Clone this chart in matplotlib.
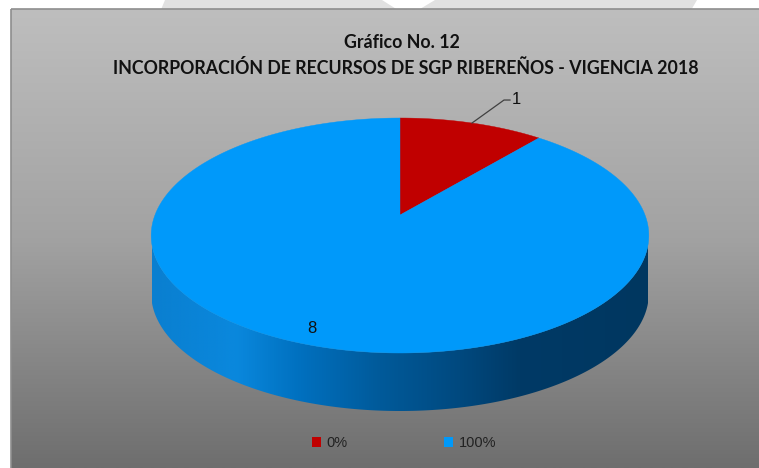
import numpy as np
import matplotlib
matplotlib.use("Agg")
import matplotlib.pyplot as plt
from matplotlib.patches import Polygon, Rectangle, Patch
from matplotlib.colors import LinearSegmentedColormap

# ---------------- data ----------------
title_lines = ["Gráfico No. 12",
               "INCORPORACIÓN DE RECURSOS DE SGP RIBEREÑOS - VIGENCIA 2018"]
values = [1, 8]
legend_labels = ["0%", "100%"]
top_colors = ["#C00000", "#0099FA"]
side_stops = [
    ["#B00000", "#B20000", "#900000", "#700000", "#600000", "#500000", "#4C0000"],
    ["#0A7FD0", "#0A88DD", "#0070BF", "#005A9A", "#00497F", "#003A66", "#003760"],
]

W, H = 759, 468
fig = plt.figure(figsize=(W / 100, H / 100), dpi=100)
ax = fig.add_axes([0, 0, 1, 1])
ax.set_xlim(0, W)
ax.set_ylim(H, 0)
ax.axis("off")

# ---------------- page watermark / chart area ----------------
ax.add_patch(Polygon([(165, 0), (160, 12), (401, 12), (382, 0)], closed=True,
                     facecolor="#E1E1E1", edgecolor="none", zorder=0))
ax.add_patch(Polygon([(435, 0), (415, 12), (690, 12), (697, 0)], closed=True,
                     facecolor="#E1E1E1", edgecolor="none", zorder=0))

x0, y0 = 11, 9
grad = np.linspace(0, 1, 256).reshape(-1, 1)
bg_cmap = LinearSegmentedColormap.from_list("bg", ["#BEBEBE", "#A2A2A2", "#6E6E6E"])
ax.imshow(grad, cmap=bg_cmap, extent=[x0, W + 2, H, y0], aspect="auto",
          interpolation="bilinear", zorder=1)
ax.add_patch(Rectangle((x0, y0), W + 5 - x0, H + 5 - y0, facecolor="none",
                       edgecolor="#8E8E8E", lw=1.2, zorder=2))

# ---------------- 3D pie projection ----------------
cx, cy = 400.0, 215.0
kx = 245.0
a_, c_ = 76.4, -0.1745
depth = 58.0


def project(theta_deg, r=1.0, drop=0.0):
    t = np.deg2rad(theta_deg)
    u = r * np.cos(t)
    v = -r * np.sin(t)
    d = 1 + c_ * v
    return cx + kx * u / d, (a_ * v + cy) / d + drop


total = float(sum(values))
fracs = np.array(values) / total
start = 90.0
ends = start - np.cumsum(fracs) * 360
begins = np.concatenate([[start], ends[:-1]])

# side faces (front, visible part)
vis_v = -c_
stops_x = [152, 235, 300, 380, 460, 520, 648]
pos = [(s - stops_x[0]) / (stops_x[-1] - stops_x[0]) for s in stops_x]
for i, (b, e) in enumerate(zip(begins, ends)):
    th = np.linspace(b, e, 800)
    vv = -np.sin(np.deg2rad(th))
    m = vv >= vis_v
    if not m.any():
        continue
    ths = th[m]
    xt, yt = project(ths)
    xb, yb = project(ths[::-1], drop=depth)
    poly = Polygon(np.column_stack([np.r_[xt, xb], np.r_[yt, yb]]), closed=True,
                   facecolor="none", edgecolor="none", zorder=3)
    ax.add_patch(poly)
    cm = LinearSegmentedColormap.from_list("side%d" % i,
                                           list(zip(pos, side_stops[i])))
    gimg = np.linspace(0, 1, 512).reshape(1, -1)
    im = ax.imshow(gimg, cmap=cm, extent=[stops_x[0], stops_x[-1], 420, 200],
                   aspect="auto", interpolation="bilinear", zorder=3)
    im.set_clip_path(poly)

# top faces
for i, (b, e) in enumerate(zip(begins, ends)):
    th = np.linspace(b, e, 400)
    xs, ys = project(th)
    pts = np.column_stack([np.r_[cx, xs], np.r_[cy, ys]])
    ax.add_patch(Polygon(pts, closed=True, facecolor=top_colors[i],
                         edgecolor=top_colors[i], lw=0.3, zorder=4))

# data labels
lab_font = ["Liberation Sans", "DejaVu Sans"]
for i, (b, e) in enumerate(zip(begins, ends)):
    mid = (b + e) / 2
    if fracs[i] < 0.2:
        ax0, ay0 = project(mid)
        ex, ey = ax0 + 32, ay0 - 23
        ax.plot([ax0, ex, ex + 6], [ay0, ey, ey], color="#404040", lw=0.9,
                zorder=5)
        ax.text(ex + 8, ey - 1, str(values[i]), fontsize=12, family=lab_font,
                color="#111111", ha="left", va="center", zorder=6)
    else:
        lx, ly = project(mid, r=0.9)
        ax.text(lx, ly, str(values[i]), fontsize=12, family=lab_font,
                color="#111111", ha="center", va="center", zorder=6)

# title
tfont = ["Lato", "DejaVu Sans"]
ax.text(402, 42, title_lines[0], fontsize=12.8, fontweight="bold", family=tfont,
        color="#111111", ha="center", va="center", zorder=6)
ax.text(406, 68, title_lines[1], fontsize=12.8, fontweight="bold", family=tfont,
        color="#111111", ha="center", va="center", zorder=6)

# legend
handles = [Patch(facecolor=top_colors[i], edgecolor="none", label=legend_labels[i])
           for i in range(len(values))]
leg = fig.legend(handles=handles, loc="center", ncol=len(values),
                 bbox_to_anchor=(404 / W, 1 - 443 / H), frameon=False,
                 prop={"family": lab_font, "size": 10.5}, handlelength=0.65,
                 handleheight=0.65, handletextpad=0.35, columnspacing=6.6,
                 labelcolor="#222222")

fig.savefig("out.png", dpi=100)
